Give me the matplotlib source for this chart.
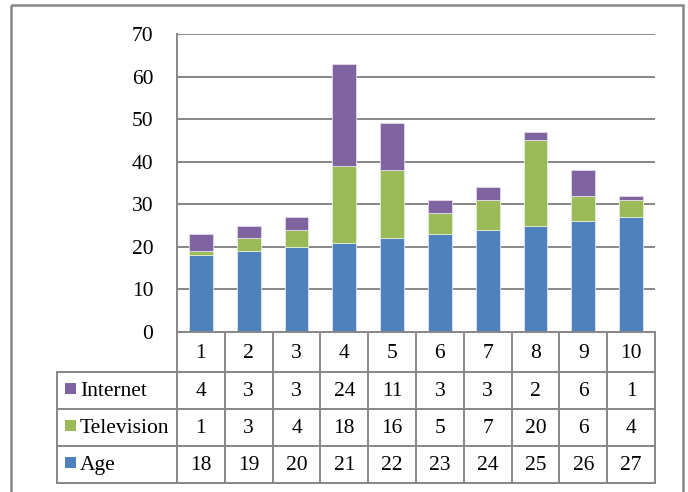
import matplotlib.pyplot as plt
from matplotlib.patches import Rectangle

# ---- data ----
categories = ["1", "2", "3", "4", "5", "6", "7", "8", "9", "10"]
age = [18, 19, 20, 21, 22, 23, 24, 25, 26, 27]
television = [1, 3, 4, 18, 16, 5, 7, 20, 6, 4]
internet = [4, 3, 3, 24, 11, 3, 3, 2, 6, 1]

series_names = ["Internet", "Television", "Age"]
colors = {"Age": "#4F81BD", "Television": "#9BBB59", "Internet": "#8064A2"}
grid_col = "#878787"
fs = 15.5

plt.rcParams["font.family"] = ["Liberation Serif", "DejaVu Serif"]

W, H = 688, 492
fig = plt.figure(figsize=(W / 100, H / 100), dpi=100)

# plot area in pixels
L, R, T, B = 177, 655, 34, 332
ax = fig.add_axes([L / W, (H - B) / H, (R - L) / W, (B - T) / H])

x = list(range(len(categories)))
bottom2 = [a + t for a, t in zip(age, television)]
ax.bar(x, age, width=0.5, color=colors["Age"], edgecolor="#dfe6f2", linewidth=0.6, zorder=3)
ax.bar(x, television, width=0.5, bottom=age, color=colors["Television"],
       edgecolor="#e6eedb", linewidth=0.6, zorder=3)
ax.bar(x, internet, width=0.5, bottom=bottom2, color=colors["Internet"],
       edgecolor="#e2dcea", linewidth=0.6, zorder=3)

ax.set_xlim(-0.5, len(categories) - 0.5)
ax.set_ylim(0, 70)
ax.set_yticks(range(0, 71, 10))
ax.yaxis.grid(True, color=grid_col, linewidth=1.4, zorder=1)
ax.set_xticks([])
ax.tick_params(axis="y", length=0, pad=17, labelsize=fs)
for s in ["top", "right", "bottom"]:
    ax.spines[s].set_visible(False)
ax.spines["left"].set_color(grid_col)
ax.spines["left"].set_linewidth(1.4)
ax.set_axisbelow(True)

# overlay in pixel coordinates for the data table and frame
ov = fig.add_axes([0, 0, 1, 1], facecolor="none")
ov.set_xlim(0, W)
ov.set_ylim(H, 0)
ov.axis("off")

# outer frame
ov.add_patch(Rectangle((11, 5), 672, 500, fill=False, edgecolor=grid_col, linewidth=1.8))

col_w = (R - L) / len(categories)
row_y = [B, 372, 409, 446, 483]
tbl_left = 57
lw_t = 1.4

# horizontal lines
ov.plot([L, R], [B, B], color=grid_col, lw=lw_t)
for yy in row_y[1:]:
    ov.plot([tbl_left, R], [yy, yy], color=grid_col, lw=lw_t)
# vertical lines
for i in range(len(categories) + 1):
    xx = L + i * col_w
    ov.plot([xx, xx], [B, row_y[-1]], color=grid_col, lw=lw_t)
ov.plot([tbl_left, tbl_left], [row_y[1], row_y[-1]], color=grid_col, lw=lw_t)

# header row
for i, c in enumerate(categories):
    ov.text(L + (i + 0.5) * col_w, (row_y[0] + row_y[1]) / 2 + 1, c,
            ha="center", va="center", fontsize=fs)

rows = {"Internet": internet, "Television": television, "Age": age}
for r, name in enumerate(series_names):
    yc = (row_y[r + 1] + row_y[r + 2]) / 2 + 1
    ov.add_patch(Rectangle((65, yc - 8.5), 10.5, 11, facecolor=colors[name], edgecolor="none"))
    ov.text(80, yc, name, ha="left", va="center", fontsize=fs)
    for i, v in enumerate(rows[name]):
        ov.text(L + (i + 0.5) * col_w, yc, str(v), ha="center", va="center", fontsize=fs)

fig.savefig("out.png", dpi=100)
